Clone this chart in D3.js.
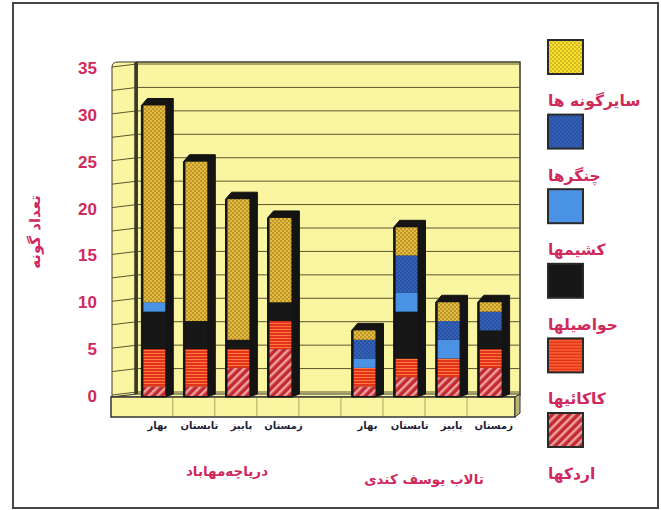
<!DOCTYPE html>
<html><head><meta charset="utf-8">
<script src="https://cdn.jsdelivr.net/npm/d3@7"></script>
<style>body{margin:0;background:#fff}</style>
</head><body><svg id="c" width="661" height="510"></svg>
<script>
// ---- data ----
const groups = ["دریاچه‌مهاباد", "تالاب یوسف کندی"];
const seasons = ["بهار", "تابستان", "پاییز", "زمستان"];
const seriesNames = ["اردکها", "کاکائیها", "حواصیلها", "کشیمها", "چنگرها", "سایرگونه ها"];
const ducks  = [1, 1, 3, 5, 1, 2, 2, 3];
const gulls  = [4, 4, 2, 3, 2, 2, 2, 2];
const herons = [4, 3, 1, 2, 0, 5, 0, 2];
const grebes = [1, 0, 0, 0, 1, 2, 2, 0];
const coots  = [0, 0, 0, 0, 2, 4, 2, 2];
const others = [21, 17, 15, 9, 1, 3, 2, 1];
const yTicks = [0, 5, 10, 15, 20, 25, 30, 35];
const yTitle = "تعداد گونه";

const seriesValues = [ducks, gulls, herons, grebes, coots, others];

// ---- build rows ----
const rows = [];
groups.forEach((g, gi) => seasons.forEach((s, si) => {
  const i = gi * 4 + si;
  const r = {key: gi + "-" + si, group: g, season: s};
  seriesNames.forEach((n, k) => r[n] = seriesValues[k][i]);
  rows.push(r);
}));
const slots = ["0-0","0-1","0-2","0-3","gap","1-0","1-1","1-2","1-3"];

const svg = d3.select("#c");
const defs = svg.append("defs");
const crimson = "#cf2a5c";

// patterns
const pOther = defs.append("pattern").attr("id","pOther").attr("patternUnits","userSpaceOnUse").attr("width",4).attr("height",4);
pOther.append("rect").attr("width",4).attr("height",4).attr("fill","#e6bc3c");
pOther.append("circle").attr("cx",1).attr("cy",1).attr("r",0.75).attr("fill","#7a5c1c");
pOther.append("circle").attr("cx",3).attr("cy",3).attr("r",0.75).attr("fill","#7a5c1c");

const pOtherL = defs.append("pattern").attr("id","pOtherL").attr("patternUnits","userSpaceOnUse").attr("width",4).attr("height",4);
pOtherL.append("rect").attr("width",4).attr("height",4).attr("fill","#f6e22c");
pOtherL.append("circle").attr("cx",1).attr("cy",1).attr("r",0.8).attr("fill","#b08018");
pOtherL.append("circle").attr("cx",3).attr("cy",3).attr("r",0.8).attr("fill","#b08018");

const pCoot = defs.append("pattern").attr("id","pCoot").attr("patternUnits","userSpaceOnUse").attr("width",4).attr("height",4);
pCoot.append("rect").attr("width",4).attr("height",4).attr("fill","#3262ba");
pCoot.append("rect").attr("width",2).attr("height",2).attr("fill","#2a52a0");
pCoot.append("rect").attr("x",2).attr("y",2).attr("width",2).attr("height",2).attr("fill","#2a52a0");

const pGull = defs.append("pattern").attr("id","pGull").attr("patternUnits","userSpaceOnUse").attr("width",4).attr("height",3);
pGull.append("rect").attr("width",4).attr("height",3).attr("fill","#e5321c");
pGull.append("rect").attr("y",2).attr("width",4).attr("height",1).attr("fill","#ff7a3c");

const pDuck = defs.append("pattern").attr("id","pDuck").attr("patternUnits","userSpaceOnUse").attr("width",6).attr("height",6).attr("patternTransform","rotate(-45)");
pDuck.append("rect").attr("width",6).attr("height",6).attr("fill","#c22a30");
pDuck.append("rect").attr("width",6).attr("height",2.5).attr("fill","#eea0a0");

const fills = {"اردکها":"url(#pDuck)","کاکائیها":"url(#pGull)","حواصیلها":"#171717","کشیمها":"#4a93e4","چنگرها":"url(#pCoot)","سایرگونه ها":"url(#pOther)"};
const legendFills = Object.assign({}, fills, {"سایرگونه ها":"url(#pOtherL)"});

// outer frame
svg.append("rect").attr("x",13).attr("y",3).attr("width",645).attr("height",505)
  .attr("fill","none").attr("stroke","#454545").attr("stroke-width",2);

// scales
const x = d3.scaleBand().domain(slots).range([135, 510]).paddingInner(0.48).paddingOuter(0.2);
const y = d3.scaleLinear().domain([0, 35]).range([396, 68]);
const bw = x.bandwidth();

const wall = "#faf5a0", gridC = "#5f5530";
// back wall
svg.append("rect").attr("x",137).attr("y",y(35)-6).attr("width",383).attr("height",y(0)-1-(y(35)-6))
  .attr("fill",wall).attr("stroke","#3a3a2a").attr("stroke-width",1.5);
// side wall
svg.append("path").attr("d",`M112,${y(35)-1} Q112,${y(35)-6} 118,${y(35)-6} L137,${y(35)-6} L137,${y(0)} L112,${y(0)+1} Z`)
  .attr("fill",wall).attr("stroke","#3a3a2a").attr("stroke-width",1);
// grid
const gv = d3.range(0, 35.01, 2.5);
svg.append("g").selectAll("line.b").data(gv).join("line")
  .attr("x1",137).attr("x2",520).attr("y1",d=>y(d)-4).attr("y2",d=>y(d)-4)
  .attr("stroke",gridC).attr("stroke-width",1);
svg.append("g").selectAll("line.s").data(gv).join("line")
  .attr("x1",112).attr("x2",137).attr("y1",d=>y(d)-1).attr("y2",d=>y(d)-4)
  .attr("stroke",gridC).attr("stroke-width",1);
// corner line
svg.append("line").attr("x1",136).attr("x2",136).attr("y1",y(35)-6).attr("y2",y(0))
  .attr("stroke","#3a3a2a").attr("stroke-width",3.5);

// floor
svg.append("path").attr("d",`M111,${y(0)+1} L137,${y(0)-2} L520,${y(0)-2} L515,${y(0)+1} Z`)
  .attr("fill",wall).attr("stroke","#333").attr("stroke-width",1);
svg.append("rect").attr("x",111).attr("y",y(0)+1).attr("width",404).attr("height",20)
  .attr("fill",wall).attr("stroke","#333").attr("stroke-width",1.5);
svg.append("path").attr("d",`M515,${y(0)+1} L520,${y(0)-2} L520,${y(0)+17} L515,${y(0)+21} Z`)
  .attr("fill","#b8b470").attr("stroke","#333").attr("stroke-width",1);
svg.append("g").selectAll("line").data(slots.slice(0,8)).join("line")
  .attr("x1",d=>x(d)+bw+7.5).attr("x2",d=>x(d)+bw+7.5)
  .attr("y1",y(0)+2).attr("y2",y(0)+20).attr("stroke","#b0a460").attr("stroke-width",1);

// bars
const stack = d3.stack().keys(seriesNames)(rows);
const bars = svg.append("g");
rows.forEach((r, i) => {
  const tot = d3.sum(seriesNames, n => r[n]);
  const x0 = x(r.key);
  bars.append("path")
    .attr("d",`M${x0-2},${y(tot)} L${x0+4},${y(tot)-7} L${x0+bw+8},${y(tot)-7} L${x0+bw+8},${y(0)-2} L${x0+bw},${y(0)+1} L${x0-2},${y(0)+1} Z`)
    .attr("fill","#141414").attr("stroke","#141414").attr("stroke-width",1).attr("stroke-linejoin","round");
});
stack.forEach(s => {
  bars.append("g").selectAll("rect").data(s.filter(d => d[1] > d[0])).join("rect")
    .attr("x", d => x(d.data.key)).attr("width", bw)
    .attr("y", d => y(d[1])).attr("height", d => y(d[0]) - y(d[1]))
    .attr("fill", fills[s.key]);
});

// y tick labels
svg.append("g").selectAll("text").data(yTicks).join("text")
  .attr("x",97).attr("y",d=>y(d)+6).attr("text-anchor","end")
  .attr("font-family","'Liberation Sans Narrow','Liberation Sans',Arial,sans-serif")
  .attr("font-weight","bold").attr("font-size",17).attr("fill",crimson).text(d=>d);

// y title
svg.append("text").attr("transform","translate(40,232) rotate(-90)").attr("text-anchor","middle")
  .attr("font-family","'DejaVu Sans',sans-serif").attr("font-weight","bold").attr("font-size",15)
  .attr("fill",crimson).text(yTitle);

// season labels
svg.append("g").selectAll("text").data(rows).join("text")
  .attr("x",d=>x(d.key)+bw/2+3).attr("y",429).attr("text-anchor","middle")
  .attr("font-family","'DejaVu Sans',sans-serif").attr("font-weight","bold").attr("font-size",10)
  .attr("fill","#1d1d35").text(d=>d.season);

// group labels
const gpos = [[227,476],[424,484]];
svg.append("g").selectAll("text").data(groups).join("text")
  .attr("x",(d,i)=>gpos[i][0]).attr("y",(d,i)=>gpos[i][1]).attr("text-anchor","middle")
  .attr("font-family","'DejaVu Sans',sans-serif").attr("font-weight","bold").attr("font-size",13.5)
  .attr("fill",crimson).text(d=>d);

// legend
const legendOrder = seriesNames.slice().reverse();
const lg = svg.append("g").selectAll("g").data(legendOrder).join("g")
  .attr("transform",(d,i)=>`translate(548,${40 + i*74.6})`);
lg.append("rect").attr("width",35).attr("height",34).attr("fill",d=>legendFills[d])
  .attr("stroke","#2a2a2a").attr("stroke-width",2);
lg.append("text").attr("x",0).attr("y",66).attr("text-anchor","start")
  .attr("font-family","'DejaVu Sans',sans-serif").attr("font-weight","bold").attr("font-size",15.5)
  .attr("fill",crimson).text(d=>d);
</script></body></html>
